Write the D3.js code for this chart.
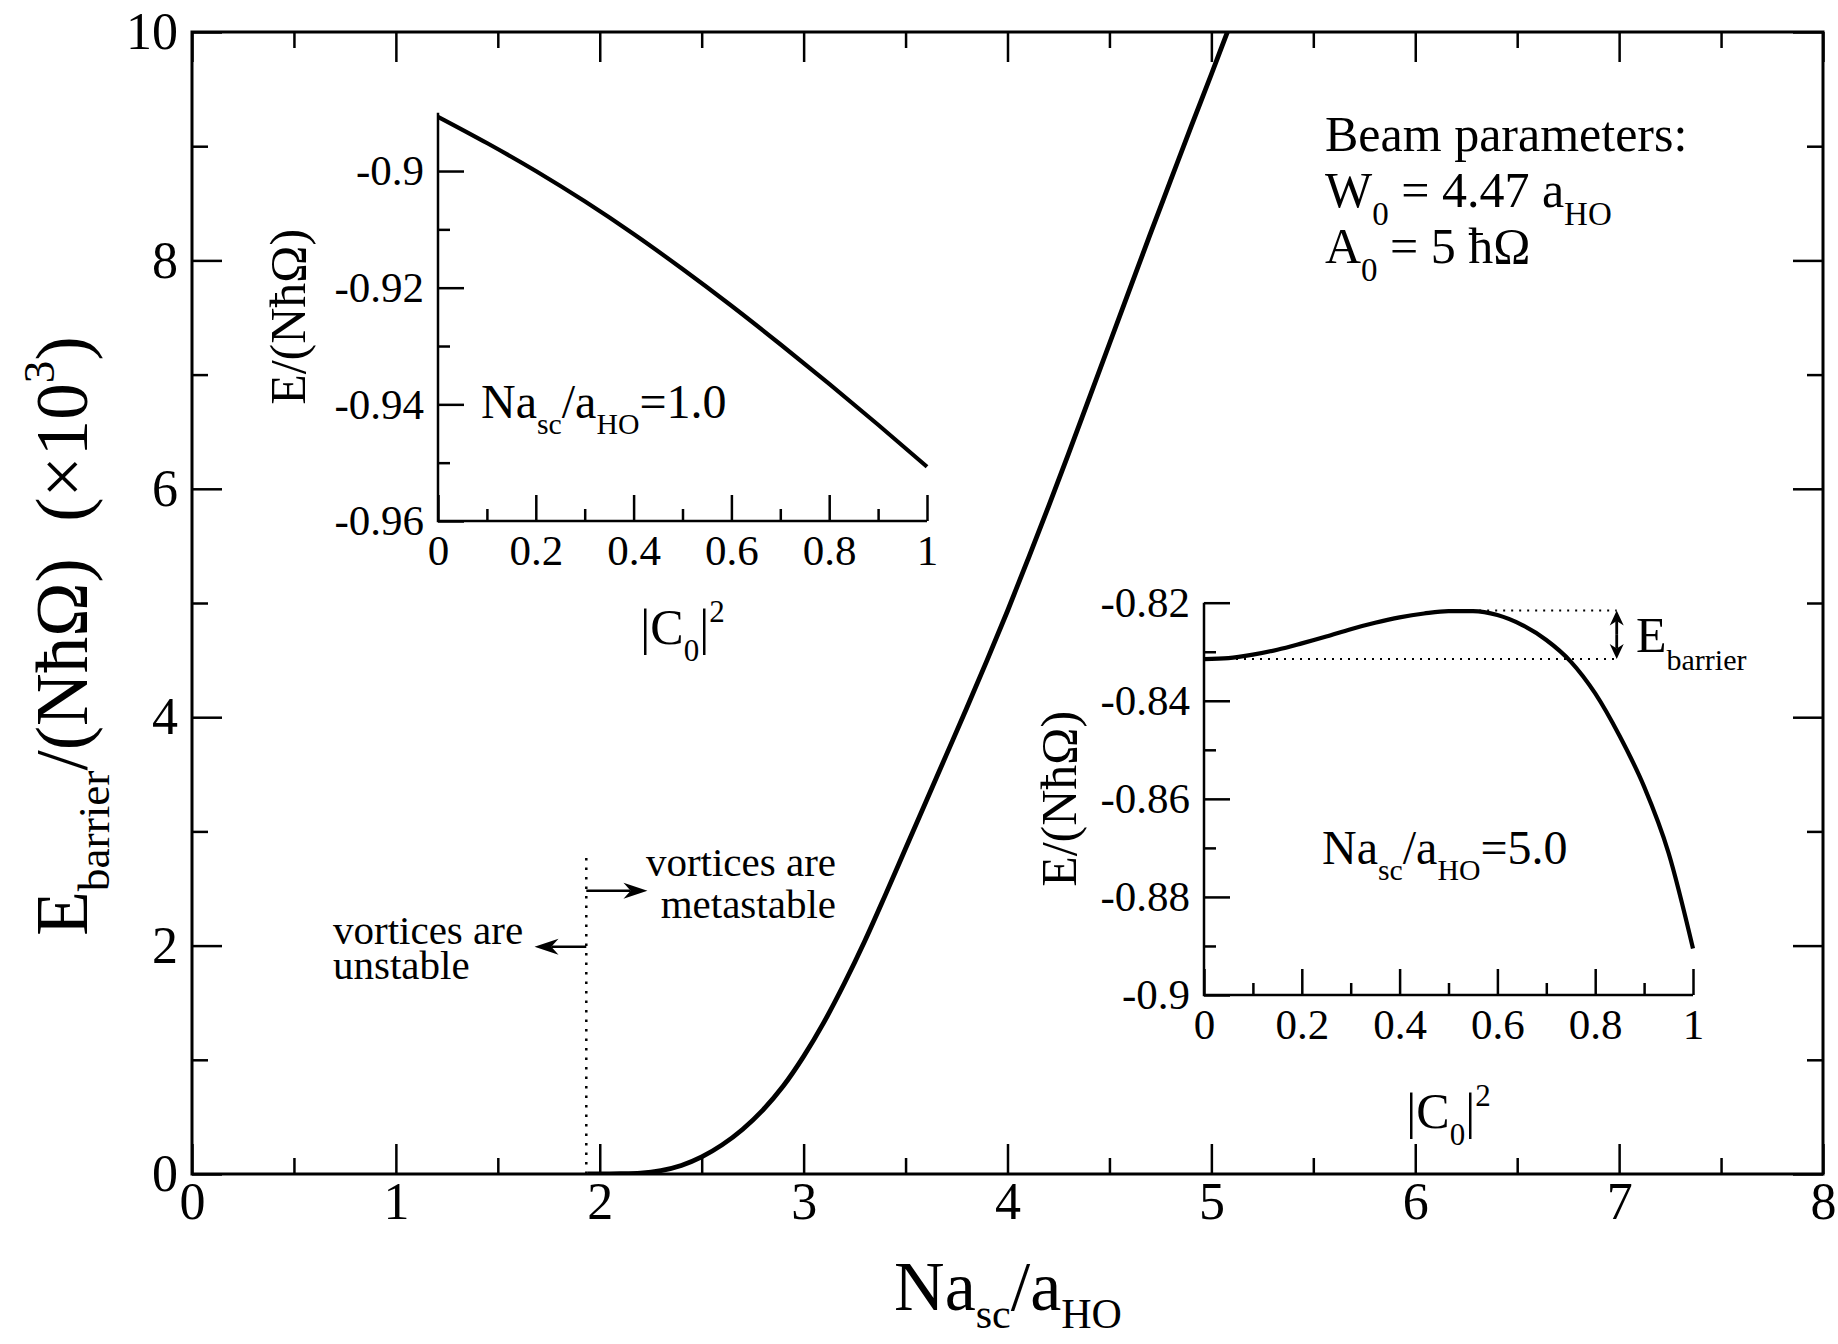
<!DOCTYPE html>
<html>
<head>
<meta charset="utf-8">
<script src="https://cdn.jsdelivr.net/npm/d3@7"></script>
<style>
body { margin: 0; background: #fff; }
text { font-family: "Liberation Serif", "Times New Roman", serif; fill: #000; white-space: pre; }
</style>
</head>
<body>
<script>
// main curve: barrier height (x10^3) against Na_sc/a_HO
var mainX = [1.94, 2.0, 2.1, 2.2, 2.3, 2.4, 2.5, 2.6, 2.7, 2.8, 2.9, 3.0, 3.1, 3.2, 3.3, 3.4, 3.5, 3.6, 3.7, 3.8, 3.9, 4.0, 4.1, 4.2, 4.3, 4.4, 4.5, 4.6, 4.7, 4.8, 4.9, 5.0, 5.1, 5.15];
var mainY = [0, 0, 0.002, 0.008, 0.03, 0.075, 0.15, 0.255, 0.39, 0.56, 0.77, 1.03, 1.33, 1.67, 2.04, 2.44, 2.85, 3.26, 3.67, 4.08, 4.50, 4.93, 5.38, 5.84, 6.31, 6.79, 7.27, 7.75, 8.23, 8.70, 9.17, 9.63, 10.1, 10.33];

// inset curves: E/(N hbar Omega) against |C0|^2
var inset1X = [0, 0.1, 0.2, 0.3, 0.4, 0.5, 0.6, 0.7, 0.8, 0.9, 1.0];
var inset1E = [-0.8907, -0.8952, -0.9000, -0.9052, -0.9108, -0.9168, -0.9231, -0.9297, -0.9365, -0.9435, -0.9507];
var inset2X = [0, 0.05, 0.1, 0.15, 0.2, 0.25, 0.3, 0.35, 0.4, 0.45, 0.5, 0.55, 0.6, 0.65, 0.7, 0.75, 0.8, 0.85, 0.9, 0.95, 1.0];
var inset2E = [-0.8315, -0.8313, -0.8306, -0.8296, -0.8283, -0.8269, -0.8254, -0.8241, -0.8230, -0.8222, -0.8217, -0.8217, -0.8225, -0.8245, -0.8276, -0.8320, -0.8385, -0.8472, -0.8575, -0.8710, -0.8905];

var criticalN = 1.934;   // boundary unstable / metastable
var ePeak = -0.8216, eStart = -0.8315, eArrowX = 0.844;

// ticks
var mainXMajor = [0, 1, 2, 3, 4, 5, 6, 7, 8];
var mainXMinor = [0.5, 1.5, 2.5, 3.5, 4.5, 5.5, 6.5, 7.5];
var mainYMajor = [0, 2, 4, 6, 8, 10];
var mainYMinor = [1, 3, 5, 7, 9];
var insetXMajor = [0, 0.2, 0.4, 0.6, 0.8, 1];
var insetXMinor = [0.1, 0.3, 0.5, 0.7, 0.9];
var inset1YMajor = [-0.96, -0.94, -0.92, -0.9];
var inset1YMinor = [-0.95, -0.93, -0.91];
var inset2YMajor = [-0.9, -0.88, -0.86, -0.84, -0.82];
var inset2YMinor = [-0.89, -0.87, -0.85, -0.83];

var width = 1838, height = 1344;
var svg = d3.select("body").append("svg")
    .attr("width", width)
    .attr("height", height);
svg.append("rect").attr("width", width).attr("height", height).attr("fill", "#fff");

// text with sub/superscripts: parts = [[text, "n"|"b"|"p"], ...]
function rich(t, parts, fs, subShift, subScale) {
    subShift = subShift || 0.33;
    subScale = subScale || 0.62;
    var cur = 0;
    parts.forEach(function(p) {
        var target = p[1] === "b" ? subShift * fs : (p[1] === "p" ? -0.45 * fs : 0);
        t.append("tspan")
            .attr("dy", target - cur)
            .attr("font-size", p[1] === "n" ? fs : subScale * fs)
            .text(p[0]);
        cur = target;
    });
    return t;
}

function styleAxis(g, fs) {
    g.attr("font-family", null).attr("font-size", fs);
    g.select(".domain").remove();
    g.selectAll(".tick line").attr("stroke", "#000").attr("stroke-width", 2.5);
    g.selectAll(".tick text").attr("fill", "#000");
}

// ---------- main plot ----------
var x = d3.scaleLinear().domain([0, 8]).range([192, 1823]);
var y = d3.scaleLinear().domain([0, 10]).range([1174, 32]);
var majorLen = 30, minorLen = 16;

svg.append("g").attr("transform", "translate(0,1174)")
    .call(d3.axisBottom(x).tickValues(mainXMajor).tickSize(-majorLen).tickPadding(8).tickFormat(d3.format("d")))
    .call(styleAxis, 52);
svg.append("g").attr("transform", "translate(0,1174)")
    .call(d3.axisBottom(x).tickValues(mainXMinor).tickSize(-minorLen).tickFormat(""))
    .call(styleAxis, 52);
svg.append("g").attr("transform", "translate(0,32)")
    .call(d3.axisTop(x).tickValues(mainXMajor).tickSize(-majorLen).tickFormat(""))
    .call(styleAxis, 52);
svg.append("g").attr("transform", "translate(0,32)")
    .call(d3.axisTop(x).tickValues(mainXMinor).tickSize(-minorLen).tickFormat(""))
    .call(styleAxis, 52);
svg.append("g").attr("transform", "translate(192,0)")
    .call(d3.axisLeft(y).tickValues(mainYMajor).tickSize(-majorLen).tickPadding(14).tickFormat(d3.format("d")))
    .call(styleAxis, 52);
svg.append("g").attr("transform", "translate(192,0)")
    .call(d3.axisLeft(y).tickValues(mainYMinor).tickSize(-minorLen).tickFormat(""))
    .call(styleAxis, 52);
svg.append("g").attr("transform", "translate(1823,0)")
    .call(d3.axisRight(y).tickValues(mainYMajor).tickSize(-majorLen).tickFormat(""))
    .call(styleAxis, 52);
svg.append("g").attr("transform", "translate(1823,0)")
    .call(d3.axisRight(y).tickValues(mainYMinor).tickSize(-minorLen).tickFormat(""))
    .call(styleAxis, 52);

svg.append("rect")
    .attr("x", x(0)).attr("y", y(10))
    .attr("width", x(8) - x(0)).attr("height", y(0) - y(10))
    .attr("fill", "none").attr("stroke", "#000").attr("stroke-width", 3);

svg.append("clipPath").attr("id", "clipMain")
    .append("rect").attr("x", x(0)).attr("y", y(10))
    .attr("width", x(8) - x(0)).attr("height", y(0) - y(10));

var mainLine = d3.line()
    .x(function(d) { return x(d[0]); })
    .y(function(d) { return y(d[1]); })
    .curve(d3.curveMonotoneX);
svg.append("path")
    .datum(d3.zip(mainX, mainY))
    .attr("clip-path", "url(#clipMain)")
    .attr("d", mainLine)
    .attr("fill", "none").attr("stroke", "#000").attr("stroke-width", 4.8);

// critical line and arrows
svg.append("line")
    .attr("x1", x(criticalN)).attr("x2", x(criticalN))
    .attr("y1", y(0)).attr("y2", y(2.79))
    .attr("stroke", "#000").attr("stroke-width", 2.5).attr("stroke-dasharray", "2.5,7");

function arrow(x1, y1, x2, y2, len, half, sw) {
    var ang = Math.atan2(y2 - y1, x2 - x1);
    var ux = Math.cos(ang), uy = Math.sin(ang);
    var px = -uy, py = ux;
    var bx = x2 - ux * len, by = y2 - uy * len;
    var nx = x2 - ux * len * 0.7, ny = y2 - uy * len * 0.7;
    svg.append("line").attr("x1", x1).attr("y1", y1).attr("x2", nx).attr("y2", ny)
        .attr("stroke", "#000").attr("stroke-width", sw);
    svg.append("path")
        .attr("d", "M" + x2 + "," + y2 + "L" + (bx + px * half) + "," + (by + py * half) +
            "L" + nx + "," + ny + "L" + (bx - px * half) + "," + (by - py * half) + "Z")
        .attr("fill", "#000");
}
arrow(x(criticalN), y(2.48), x(2.234), y(2.48), 24, 8, 2.5);
arrow(x(criticalN), y(1.99), x(1.68), y(1.99), 24, 8, 2.5);

svg.append("text").attr("x", 836).attr("y", 876).attr("text-anchor", "end").attr("font-size", 41).text("vortices are");
svg.append("text").attr("x", 836).attr("y", 918).attr("text-anchor", "end").attr("font-size", 41).text("metastable");
svg.append("text").attr("x", 333).attr("y", 944).attr("font-size", 41).text("vortices are");
svg.append("text").attr("x", 333).attr("y", 979).attr("font-size", 41).text("unstable");

// beam parameters
svg.append("text").attr("x", 1325).attr("y", 151).attr("font-size", 50).text("Beam parameters:");
rich(svg.append("text").attr("x", 1325).attr("y", 207), [["W", "n"], ["0", "b"], [" = 4.47 a", "n"], ["HO", "b"]], 50, 0.36, 0.66);
rich(svg.append("text").attr("x", 1325).attr("y", 263), [["A", "n"], ["0", "b"], [" = 5 ħΩ", "n"]], 50, 0.36, 0.66);

// axis titles
rich(svg.append("text").attr("x", 1008).attr("y", 1310).attr("text-anchor", "middle"),
    [["Na", "n"], ["sc", "b"], ["/a", "n"], ["HO", "b"]], 70, 0.26, 0.6);
rich(svg.append("text").attr("transform", "translate(87,636) rotate(-90)").attr("text-anchor", "middle"),
    [["E", "n"], ["barrier", "b"], ["/(NħΩ)  (×10", "n"], ["3", "p"], [")", "n"]], 73, 0.3, 0.62);

// ---------- insets ----------
function inset(xr, yDom, yr, yMajor, yMinor, cx, cy, label, labelPos, titleX, titleY) {
    var sx = d3.scaleLinear().domain([0, 1]).range(xr);
    var sy = d3.scaleLinear().domain(yDom).range(yr);
    var bottom = yr[0], left = xr[0];
    svg.append("g").attr("transform", "translate(0," + bottom + ")")
        .call(d3.axisBottom(sx).tickValues(insetXMajor).tickSize(-26).tickPadding(13).tickFormat(function(d) { return String(d); }))
        .call(styleAxis, 43);
    svg.append("g").attr("transform", "translate(0," + bottom + ")")
        .call(d3.axisBottom(sx).tickValues(insetXMinor).tickSize(-12).tickFormat(""))
        .call(styleAxis, 43);
    svg.append("g").attr("transform", "translate(" + left + ",0)")
        .call(d3.axisLeft(sy).tickValues(yMajor).tickSize(-26).tickPadding(14).tickFormat(function(d) { return String(d); }))
        .call(styleAxis, 43);
    svg.append("g").attr("transform", "translate(" + left + ",0)")
        .call(d3.axisLeft(sy).tickValues(yMinor).tickSize(-12).tickFormat(""))
        .call(styleAxis, 43);
    svg.append("path")
        .attr("d", "M" + left + "," + yr[1] + "V" + bottom + "H" + xr[1])
        .attr("fill", "none").attr("stroke", "#000").attr("stroke-width", 2.5);
    var line = d3.line()
        .x(function(d) { return sx(d[0]); })
        .y(function(d) { return sy(d[1]); })
        .curve(d3.curveMonotoneX);
    svg.append("path").datum(d3.zip(cx, cy)).attr("d", line)
        .attr("fill", "none").attr("stroke", "#000").attr("stroke-width", 4.2);
    rich(svg.append("text").attr("x", labelPos[0]).attr("y", labelPos[1]),
        [["Na", "n"], ["sc", "b"], ["/a", "n"], ["HO", "b"], ["=" + label, "n"]], 48);
    rich(svg.append("text").attr("x", (xr[0] + xr[1]) / 2).attr("y", titleX).attr("text-anchor", "middle"),
        [["|C", "n"], ["0", "b"], ["|", "n"], ["2", "p"]], 50);
    svg.append("text").attr("transform", "translate(" + titleY + "," + (yr[0] + yr[1]) / 2 + ") rotate(-90)")
        .attr("text-anchor", "middle").attr("font-size", 50).text("E/(NħΩ)");
    return { sx: sx, sy: sy };
}

inset([438, 927], [-0.96, -0.89], [521, 112.7], inset1YMajor, inset1YMinor,
    inset1X, inset1E, "1.0", [481, 418], 644, 305);
var in2 = inset([1204, 1693], [-0.9, -0.82], [995, 602.7], inset2YMajor, inset2YMinor,
    inset2X, inset2E, "5.0", [1322, 864], 1128, 1076);

// barrier markers in inset 2
svg.append("line")
    .attr("x1", in2.sx(0)).attr("x2", in2.sx(eArrowX))
    .attr("y1", in2.sy(eStart)).attr("y2", in2.sy(eStart))
    .attr("stroke", "#000").attr("stroke-width", 2).attr("stroke-dasharray", "2,6");
svg.append("line")
    .attr("x1", in2.sx(0.53)).attr("x2", in2.sx(eArrowX))
    .attr("y1", in2.sy(ePeak)).attr("y2", in2.sy(ePeak))
    .attr("stroke", "#000").attr("stroke-width", 2).attr("stroke-dasharray", "2,6");
var amid = (in2.sy(ePeak) + in2.sy(eStart)) / 2;
arrow(in2.sx(eArrowX), amid, in2.sx(eArrowX), in2.sy(ePeak), 15, 7, 2.8);
arrow(in2.sx(eArrowX), amid, in2.sx(eArrowX), in2.sy(eStart), 15, 7, 2.8);
rich(svg.append("text").attr("x", 1636).attr("y", 652), [["E", "n"], ["barrier", "b"]], 50, 0.36, 0.6);
</script>
</body>
</html>
